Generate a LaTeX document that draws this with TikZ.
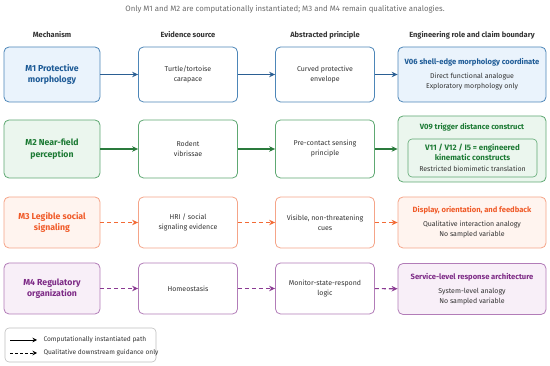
\documentclass[tikz,border=0pt]{standalone}
\usepackage{fontspec}
\setmainfont{Fira Sans}
\usetikzlibrary{arrows.meta,positioning}

\definecolor{inktext}{HTML}{333333}
\definecolor{greytext}{HTML}{6B6B6B}
\definecolor{m1line}{HTML}{4D86B8}
\definecolor{m1fill}{HTML}{EAF3FC}
\definecolor{m1text}{HTML}{1D5A96}
\definecolor{m1arrow}{HTML}{2B5F93}
\definecolor{m2line}{HTML}{5EA872}
\definecolor{m2fill}{HTML}{EBF6EE}
\definecolor{m2text}{HTML}{1C7A34}
\definecolor{m2arrow}{HTML}{2A7A3C}
\definecolor{m3line}{HTML}{F5A488}
\definecolor{m3fill}{HTML}{FFF4EF}
\definecolor{m3text}{HTML}{F05A28}
\definecolor{m3arrow}{HTML}{F26A35}
\definecolor{m4line}{HTML}{B27CB8}
\definecolor{m4fill}{HTML}{F8EFF8}
\definecolor{m4text}{HTML}{7D2A86}
\definecolor{m4arrow}{HTML}{8A3A92}

\begin{document}
\begin{tikzpicture}[
  x=1pt, y=-1pt,
  font=\fontsize{7}{10}\selectfont, text=inktext,
  head/.style={font=\fontsize{7.5}{9}\selectfont\bfseries, text=inktext},
  mechbox/.style={draw=#1line, fill=#1fill, text=#1text, rounded corners=5pt, line width=0.8pt, align=center,
    minimum width=96pt, font=\fontsize{8.7}{11.5}\selectfont\bfseries},
  plainbox/.style={draw=#1line, fill=white, rounded corners=5pt, line width=0.8pt, align=center, minimum width=99pt},
  rolebox/.style={draw=#1line, fill=#1fill, rounded corners=5pt, line width=0.8pt, align=center, minimum width=148pt},
  roletitle/.style={text=#1text, font=\fontsize{7.6}{10}\selectfont\bfseries},
  solidarrow/.style={-{Stealth[length=6pt,width=5.5pt]}, line width=1.1pt, draw=#1arrow},
  dasharrow/.style={-{Stealth[length=6pt,width=5.5pt]}, line width=1.1pt, draw=#1arrow, dash pattern=on 4pt off 3pt}
]
\useasboundingbox (0,0) rectangle (550,366);

\node[text=greytext, font=\fontsize{7.8}{10}\selectfont] (title) at (285,9) {Only M1 and M2 are computationally instantiated; M3 and M4 remain qualitative analogies.};

% column headers
\node[head] (h1) at (52,35) {Mechanism};
\node[head] (h2) at (188,35) {Evidence source};
\node[head] (h3) at (325,35) {Abstracted principle};
\node[head] (h4) at (472,35) {Engineering role and claim boundary};

% row 1
\node[mechbox=m1, minimum height=55pt] (m1) at (52,74.5) {M1 Protective\\morphology};
\node[plainbox=m1, minimum height=55pt] (e1) at (188,74.5) {Turtle/tortoise\\carapace};
\node[plainbox=m1, minimum height=55pt] (p1) at (325,74.5) {Curved protective\\envelope};
\node[rolebox=m1, minimum height=55pt] (r1) at (472,74.5)
  {\textcolor{m1text}{\fontsize{7.6}{10}\selectfont\bfseries V06 shell-edge morphology coordinate}\\[4pt]Direct functional analogue\\Exploratory morphology only};
\draw[solidarrow=m1] (m1) -- (e1);
\draw[solidarrow=m1] (e1) -- (p1);
\draw[solidarrow=m1] (p1) -- (r1);

% row 2
\node[mechbox=m2, minimum height=58pt] (m2) at (52,149) {M2 Near-field\\perception};
\node[plainbox=m2, minimum height=58pt] (e2) at (188,149) {Rodent\\vibrissae};
\node[plainbox=m2, minimum height=58pt] (p2) at (325,149) {Pre-contact sensing\\principle};
\node[rolebox=m2, minimum height=66pt] (r2) at (472,149) {};
\node[roletitle=m2] (r2title) at (472,127) {V09 trigger distance construct};
\node[draw=m2line, fill=m2fill, rounded corners=4pt, line width=0.6pt, minimum width=129pt, minimum height=38pt, align=center]
  (r2inner) at (472.5,158)
  {\textcolor{m2text}{\fontsize{7.9}{10}\selectfont\bfseries V11 / V12 / I5 = engineered}\\[-0.5pt]\textcolor{m2text}{\fontsize{7.9}{10}\selectfont\bfseries kinematic constructs}\\[1pt]Restricted biomimetic translation};
\draw[solidarrow=m2] (m2) -- (e2);
\draw[solidarrow=m2] (e2) -- (p2);
\draw[solidarrow=m2] (p2) -- (r2);

% row 3
\node[mechbox=m3, minimum height=51pt] (m3) at (52,222.5) {M3 Legible social\\signaling};
\node[plainbox=m3, minimum height=51pt] (e3) at (188,222.5) {HRI / social\\signaling evidence};
\node[plainbox=m3, minimum height=51pt] (p3) at (325,222.5) {Visible, non-threatening\\cues};
\node[rolebox=m3, minimum height=51pt] (r3) at (472,222.5)
  {\textcolor{m3text}{\fontsize{7.6}{10}\selectfont\bfseries Display, orientation, and feedback}\\[4pt]Qualitative interaction analogy\\No sampled variable};
\draw[dasharrow=m3] (m3) -- (e3);
\draw[dasharrow=m3] (e3) -- (p3);
\draw[dasharrow=m3] (p3) -- (r3);

% row 4
\node[mechbox=m4, minimum height=51pt] (m4) at (52,288.5) {M4 Regulatory\\organization};
\node[plainbox=m4, minimum height=51pt] (e4) at (188,288.5) {Homeostasis};
\node[plainbox=m4, minimum height=51pt] (p4) at (325,288.5) {Monitor-state-respond\\logic};
\node[rolebox=m4, minimum height=51pt] (r4) at (472,289)
  {\textcolor{m4text}{\fontsize{7.6}{10}\selectfont\bfseries Service-level response architecture}\\[4pt]System-level analogy\\No sampled variable};
\draw[dasharrow=m4] (m4) -- (e4);
\draw[dasharrow=m4] (e4) -- (p4);
\draw[dasharrow=m4] (p4) -- (r4);

% legend
\node[draw=black!25, fill=white, rounded corners=4pt, line width=0.6pt, minimum width=151pt, minimum height=34pt] (legend) at (80.5,345) {};
\coordinate (l1a) at (10,340);
\coordinate (l1b) at (37,340);
\coordinate (l2a) at (10,353);
\coordinate (l2b) at (37,353);
\draw[-{Stealth[length=4.5pt,width=4.5pt]}, line width=0.9pt] (l1a) -- (l1b);
\draw[-{Stealth[length=4.5pt,width=4.5pt]}, line width=0.9pt, dash pattern=on 3pt off 2pt] (l2a) -- (l2b);
\node[anchor=west, font=\fontsize{6.6}{8}\selectfont] (leg1) at (40,340) {Computationally instantiated path};
\node[anchor=west, font=\fontsize{6.6}{8}\selectfont] (leg2) at (40,353) {Qualitative downstream guidance only};
\end{tikzpicture}
\end{document}
